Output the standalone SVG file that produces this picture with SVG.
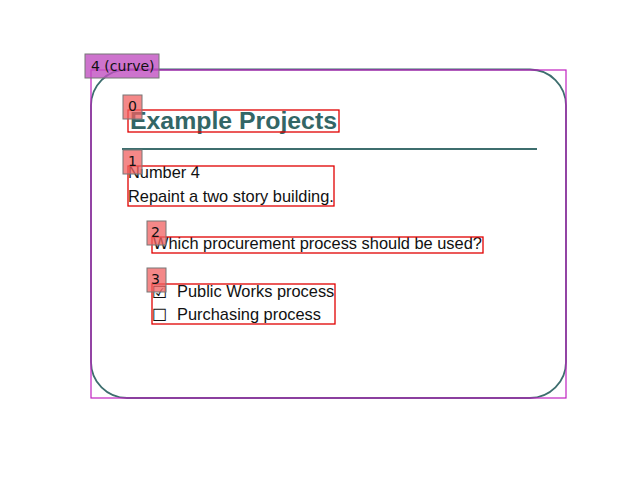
<svg xmlns="http://www.w3.org/2000/svg" width="640" height="480" viewBox="0 0 640 480">
<style>
.t{font-family:"Liberation Sans",Arial,sans-serif;font-size:16.4px;fill:#111}
.c{font-family:"DejaVu Sans",sans-serif;font-size:17px;fill:#111}
.h{font-family:"Liberation Sans",Arial,sans-serif;font-size:24.5px;font-weight:bold;fill:#336666}
.rb{fill:none;stroke:#e00000;stroke-width:1.3}
.lb{fill:#f06060;fill-opacity:0.75;stroke:#777;stroke-width:1}
.lt{font-family:"DejaVu Sans",sans-serif;font-size:14px;fill:#111}
</style>
<rect width="640" height="480" fill="#fff"/>
<g id="connectors"></g>
<g id="node4">
<rect x="91" y="69.5" width="475" height="328.5" rx="36" ry="36" fill="none" stroke="#3d6e6e" stroke-width="1.8"/>
<rect x="91" y="70" width="475" height="328" fill="none" stroke="#c020c0" stroke-width="1.2"/>
</g>
<g id="node0">
<text class="h" x="130" y="128.5" textLength="207" lengthAdjust="spacingAndGlyphs">Example Projects</text>
<rect class="rb" x="128" y="110" width="211" height="22"/>
</g>
<line x1="122" y1="149" x2="537" y2="149" stroke="#3d6e6e" stroke-width="2"/>
<g id="node1">
<text class="t" x="128" y="178">Number 4</text>
<text class="t" x="128" y="202">Repaint a two story building.</text>
<rect class="rb" x="128" y="166" width="206" height="40"/>
</g>
<g id="node2">
<text class="t" x="153" y="249">Which procurement process should be used?</text>
<rect class="rb" x="152" y="237" width="331" height="16"/>
</g>
<g id="node3">
<text class="c" x="152" y="298">☑</text>
<text class="t" x="177" y="297">Public Works process</text>
<text class="c" x="152" y="321">☐</text>
<text class="t" x="177" y="320">Purchasing process</text>
<rect class="rb" x="152" y="284" width="183" height="40"/>
</g>
<g id="labels">
<rect class="lb" x="123" y="95" width="19" height="24"/>
<text class="lt" x="128" y="111">0</text>
<rect class="lb" x="123" y="150" width="19" height="24"/>
<text class="lt" x="128" y="166">1</text>
<rect class="lb" x="147" y="221" width="19" height="24"/>
<text class="lt" x="151" y="237">2</text>
<rect class="lb" x="147" y="268" width="19" height="24"/>
<text class="lt" x="151" y="284">3</text>
<rect x="85" y="54" width="74" height="24" fill="#c050c0" fill-opacity="0.8" stroke="#777" stroke-width="1"/>
<text class="lt" x="91" y="71">4 (curve)</text>
</g>
</svg>
